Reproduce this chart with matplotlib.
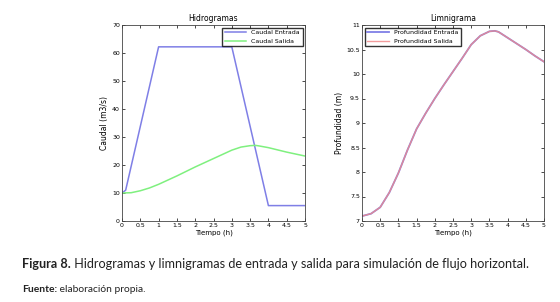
import matplotlib
matplotlib.use("Agg")
import matplotlib.pyplot as plt
from matplotlib.ticker import FormatStrFormatter

# hidrogramas
t_entrada = [0, 0.1, 1, 3, 4, 5]
q_entrada = [10, 11, 62.2, 62.2, 5.5, 5.5]
t_salida = [0, 0.25, 0.5, 0.75, 1, 1.25, 1.5, 1.75, 2, 2.25, 2.5, 2.75, 3, 3.25, 3.5, 3.65, 3.75, 4, 4.25, 4.5, 4.75, 5]
q_salida = [10, 10.1, 10.8, 11.8, 13.1, 14.6, 16.1, 17.7, 19.3, 20.8, 22.3, 23.8, 25.3, 26.4, 26.9, 27.0, 26.8, 26.2, 25.4, 24.6, 23.9, 23.2]

# limnigrama
t_prof = [0, 0.25, 0.5, 0.75, 1, 1.25, 1.5, 1.75, 2, 2.25, 2.5, 2.75, 3, 3.25, 3.5, 3.65, 3.75, 4, 4.25, 4.5, 4.75, 5]
p_entrada = [7.1, 7.15, 7.28, 7.58, 7.98, 8.45, 8.88, 9.2, 9.5, 9.78, 10.05, 10.32, 10.6, 10.78, 10.87, 10.88, 10.86, 10.74, 10.62, 10.5, 10.37, 10.25]
p_salida = p_entrada

x_ticks = [0, 0.5, 1, 1.5, 2, 2.5, 3, 3.5, 4, 4.5, 5]

azul = "#7f7fe6"
verde = "#7ff07f"
rojo = "#f08a8a"

fig = plt.figure(figsize=(5.6, 3.02), dpi=100)
ax1 = fig.add_axes([122/560, 1-221/302, 183/560, 196/302])
ax2 = fig.add_axes([362/560, 1-221/302, 182/560, 196/302])

ax1.plot(t_entrada, q_entrada, color=azul, lw=1.1, label="Caudal Entrada")
ax1.plot(t_salida, q_salida, color=verde, lw=1.1, label="Caudal Salida")
ax1.set_xlim(0, 5)
ax1.set_ylim(0, 70)
ax1.set_yticks(range(0, 71, 10))
ax1.set_title("Hidrogramas", fontsize=5.5, pad=3)
ax1.set_ylabel("Caudal (m3/s)", fontsize=5.5, labelpad=2)
ax1.set_xlabel("Tiempo (h)", fontsize=5, labelpad=1)
ax1.legend(loc="upper right", fontsize=4.5, frameon=True, fancybox=False,
           edgecolor="black", borderaxespad=0.4, handlelength=3.5)

ax2.plot(t_prof, p_entrada, color=azul, lw=1.3, label="Profundidad Entrada")
ax2.plot(t_prof, p_salida, color=rojo, lw=1.0, alpha=0.85, label="Profundidad Salida")
ax2.set_xlim(0, 5)
ax2.set_ylim(7, 11)
ax2.set_yticks([7, 7.5, 8, 8.5, 9, 9.5, 10, 10.5, 11])
ax2.yaxis.set_major_formatter(FormatStrFormatter("%g"))
ax2.set_title("Limnigrama", fontsize=5.5, pad=3)
ax2.set_ylabel("Profundidad (m)", fontsize=5.5, labelpad=2)
ax2.set_xlabel("Tiempo (h)", fontsize=5, labelpad=1)
ax2.legend(loc="upper left", fontsize=4.5, frameon=True, fancybox=False,
           edgecolor="black", borderaxespad=0.4, handlelength=3.5)

for ax in (ax1, ax2):
    ax.set_xticks(x_ticks)
    ax.xaxis.set_major_formatter(FormatStrFormatter("%g"))
    ax.tick_params(direction="in", top=True, right=True, labelsize=4.5, length=2, width=0.5, pad=1.5)
    for s in ax.spines.values():
        s.set_linewidth(0.6)
        s.set_color("#444444")

# pie de figura: parte en negrita + resto
r = fig.canvas.get_renderer()
def texto_mixto(x, y, negrita, resto, size):
    t = fig.text(x, y, negrita, fontsize=size, fontweight="bold", va="baseline", family="Lato", color="#222222")
    bb = t.get_window_extent(renderer=r)
    fig.text(bb.x1 / fig.bbox.width, y, " " + resto, fontsize=size, va="baseline", family="Lato", color="#222222")

texto_mixto(22/560, 1-268/302, "Figura 8.", "Hidrogramas y limnigramas de entrada y salida para simulación de flujo horizontal.", 9.1)
texto_mixto(22/560, 1-292/302, "Fuente:", "elaboración propia.", 7.4)

fig.savefig("out.png", dpi=100)
